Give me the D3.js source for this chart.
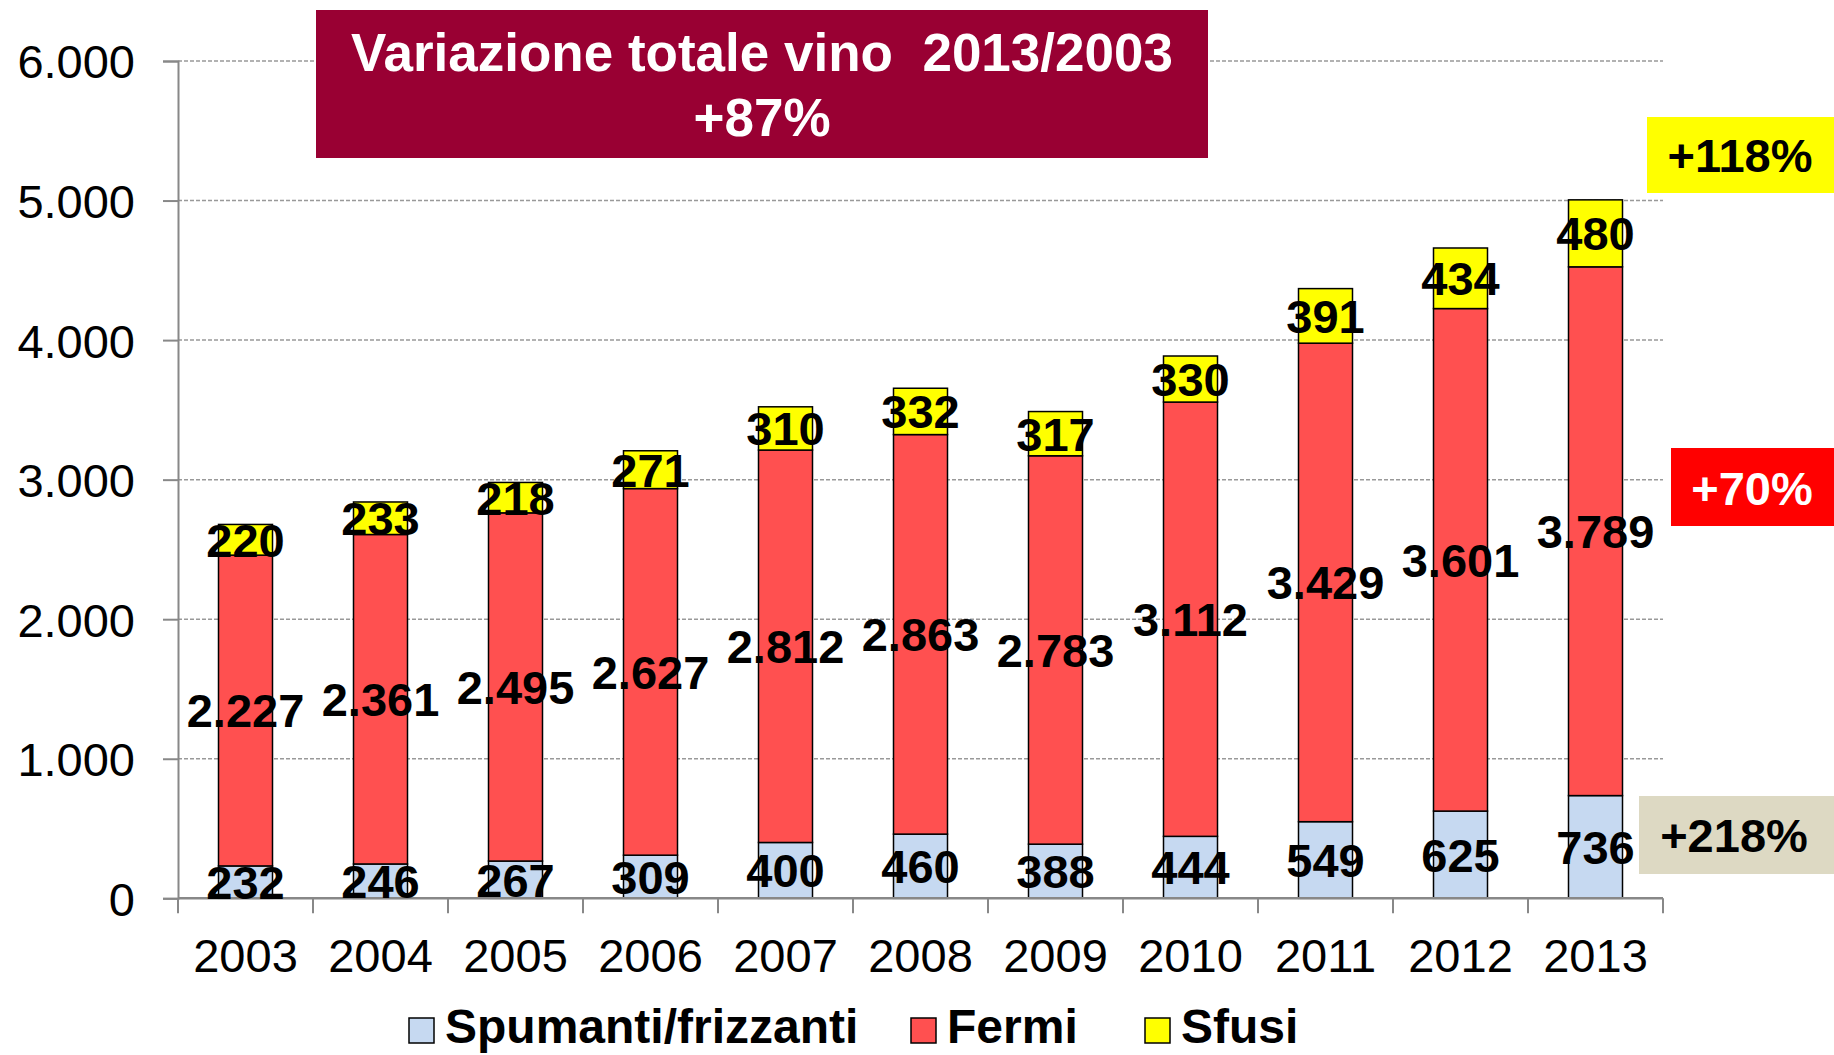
<!DOCTYPE html>
<html>
<head>
<meta charset="utf-8">
<script src="https://cdn.jsdelivr.net/npm/d3@7"></script>
<style>
  html, body { margin: 0; padding: 0; background: #fff; }
  svg { display: block; font-family: "Liberation Sans", Arial, sans-serif; }
</style>
</head>
<body>
<svg id="chart" width="1834" height="1055"></svg>
<script>
const years = ["2003","2004","2005","2006","2007","2008","2009","2010","2011","2012","2013"];
const spumanti = [232,246,267,309,400,460,388,444,549,625,736];
const fermi = [2227,2361,2495,2627,2812,2863,2783,3112,3429,3601,3789];
const sfusi = [220,233,218,271,310,332,317,330,391,434,480];
const seriesNames = ["Spumanti/frizzanti","Fermi","Sfusi"];
const seriesColors = ["#c6d9f1","#ff5050","#ffff00"];
const yTicks = [0,1000,2000,3000,4000,5000,6000];
const titleLines = ["Variazione totale vino  2013/2003","+87%"];
const annotations = [
  {text:"+118%", fill:"#ffff00", color:"#000000"},
  {text:"+70%", fill:"#ff0000", color:"#ffffff"},
  {text:"+218%", fill:"#ddd9c3", color:"#000000"}
];

(function () {
const svg = d3.select("#chart");
const pLeft = 178, pRight = 1663, pTop = 61, pBottom = 898.3;
const fmt = d3.formatLocale({decimal:",", thousands:".", grouping:[3], currency:["","€"]}).format(",d");

const x = d3.scaleBand().domain(years).range([pLeft, pRight]).paddingInner(0.6).paddingOuter(0.3);
const y = d3.scaleLinear().domain([0, 6000]).range([pBottom, pTop]);

// gridlines
svg.append("g").selectAll("line").data(yTicks.filter(d => d > 0)).join("line")
  .attr("x1", pLeft).attr("x2", pRight)
  .attr("y1", d => y(d)).attr("y2", d => y(d))
  .attr("stroke", "#999").attr("stroke-width", 1.5).attr("stroke-dasharray", "4,2");

// y axis
const yAxis = d3.axisLeft(y).tickValues(yTicks).tickSize(15).tickFormat(d => fmt(d));
const gy = svg.append("g").attr("transform", `translate(${pLeft},0)`).call(yAxis);
gy.select(".domain").attr("stroke", "#888").attr("stroke-width", 2);
gy.selectAll(".tick line").attr("stroke", "#888").attr("stroke-width", 2);
gy.selectAll(".tick text").attr("font-size", 47).attr("fill", "#000")
  .attr("font-family", "'Liberation Sans', Arial, sans-serif")
  .attr("x", -43).attr("dy", "0.36em");

// stacked data
const table = years.map((yr, i) => ({year: yr, s0: spumanti[i], s1: fermi[i], s2: sfusi[i]}));
const stack = d3.stack().keys(["s0","s1","s2"])(table);

const layers = svg.append("g").selectAll("g").data(stack).join("g")
  .attr("fill", (d, i) => seriesColors[i]);
layers.selectAll("rect").data(d => d).join("rect")
  .attr("x", d => x(d.data.year))
  .attr("width", x.bandwidth())
  .attr("y", d => y(d[1]))
  .attr("height", d => y(d[0]) - y(d[1]))
  .attr("stroke", "#000").attr("stroke-width", 1.5);

// x axis
svg.append("line").attr("x1", pLeft).attr("x2", pRight).attr("y1", pBottom).attr("y2", pBottom)
  .attr("stroke", "#888").attr("stroke-width", 2.5);
const step = x.step();
const half = (step - x.bandwidth()) / 2;
const boundaries = years.map(yr => x(yr) - half).concat([x(years[years.length-1]) + x.bandwidth() + half]);
svg.append("g").selectAll("line").data(boundaries).join("line")
  .attr("x1", d => d).attr("x2", d => d).attr("y1", pBottom).attr("y2", pBottom + 15)
  .attr("stroke", "#888").attr("stroke-width", 2);
svg.append("g").selectAll("text").data(years).join("text")
  .attr("x", d => x(d) + x.bandwidth() / 2).attr("y", 971.5)
  .attr("text-anchor", "middle").attr("font-size", 47).attr("fill", "#000")
  .text(d => d);

// value labels
const labelG = svg.append("g");
stack.forEach(layer => {
  labelG.append("g").selectAll("text").data(layer).join("text")
    .attr("x", d => x(d.data.year) + x.bandwidth() / 2)
    .attr("y", d => y((d[0] + d[1]) / 2))
    .attr("dy", "0.36em")
    .attr("text-anchor", "middle").attr("font-size", 47).attr("font-weight", "bold").attr("fill", "#000")
    .text(d => fmt(d[1] - d[0]));
});

// title box
svg.append("rect").attr("x", 316).attr("y", 10).attr("width", 892).attr("height", 148).attr("fill", "#990033");
svg.append("g").selectAll("text").data(titleLines).join("text")
  .attr("x", 762).attr("y", (d, i) => 71 + i * 64.5)
  .attr("text-anchor", "middle").attr("font-size", 53).attr("font-weight", "bold").attr("fill", "#fff")
  .style("white-space", "pre")
  .text(d => d);

// annotation boxes
const annoPos = [
  {x:1647, y:117, w:187, h:76, tx:1740, ty:172},
  {x:1671, y:448, w:163, h:78, tx:1752, ty:505},
  {x:1639, y:796, w:195, h:78, tx:1734, ty:852}
];
annotations.forEach((a, i) => {
  const p = annoPos[i];
  svg.append("rect").attr("x", p.x).attr("y", p.y).attr("width", p.w).attr("height", p.h).attr("fill", a.fill);
  svg.append("text").attr("x", p.tx).attr("y", p.ty).attr("text-anchor", "middle")
    .attr("font-size", 47).attr("font-weight", "bold").attr("fill", a.color).text(a.text);
});

// legend
const legendX = [409, 911, 1145];
const lg = svg.append("g").selectAll("g").data(seriesNames).join("g")
  .attr("transform", (d, i) => `translate(${legendX[i]},1018)`);
lg.append("rect").attr("width", 25).attr("height", 25)
  .attr("fill", (d, i) => seriesColors[i]).attr("stroke", "#000").attr("stroke-width", 1.5);
lg.append("text").attr("x", 36).attr("y", 25).attr("font-size", 48).attr("font-weight", "bold")
  .attr("fill", "#000").text(d => d);
})();
</script>
</body>
</html>
